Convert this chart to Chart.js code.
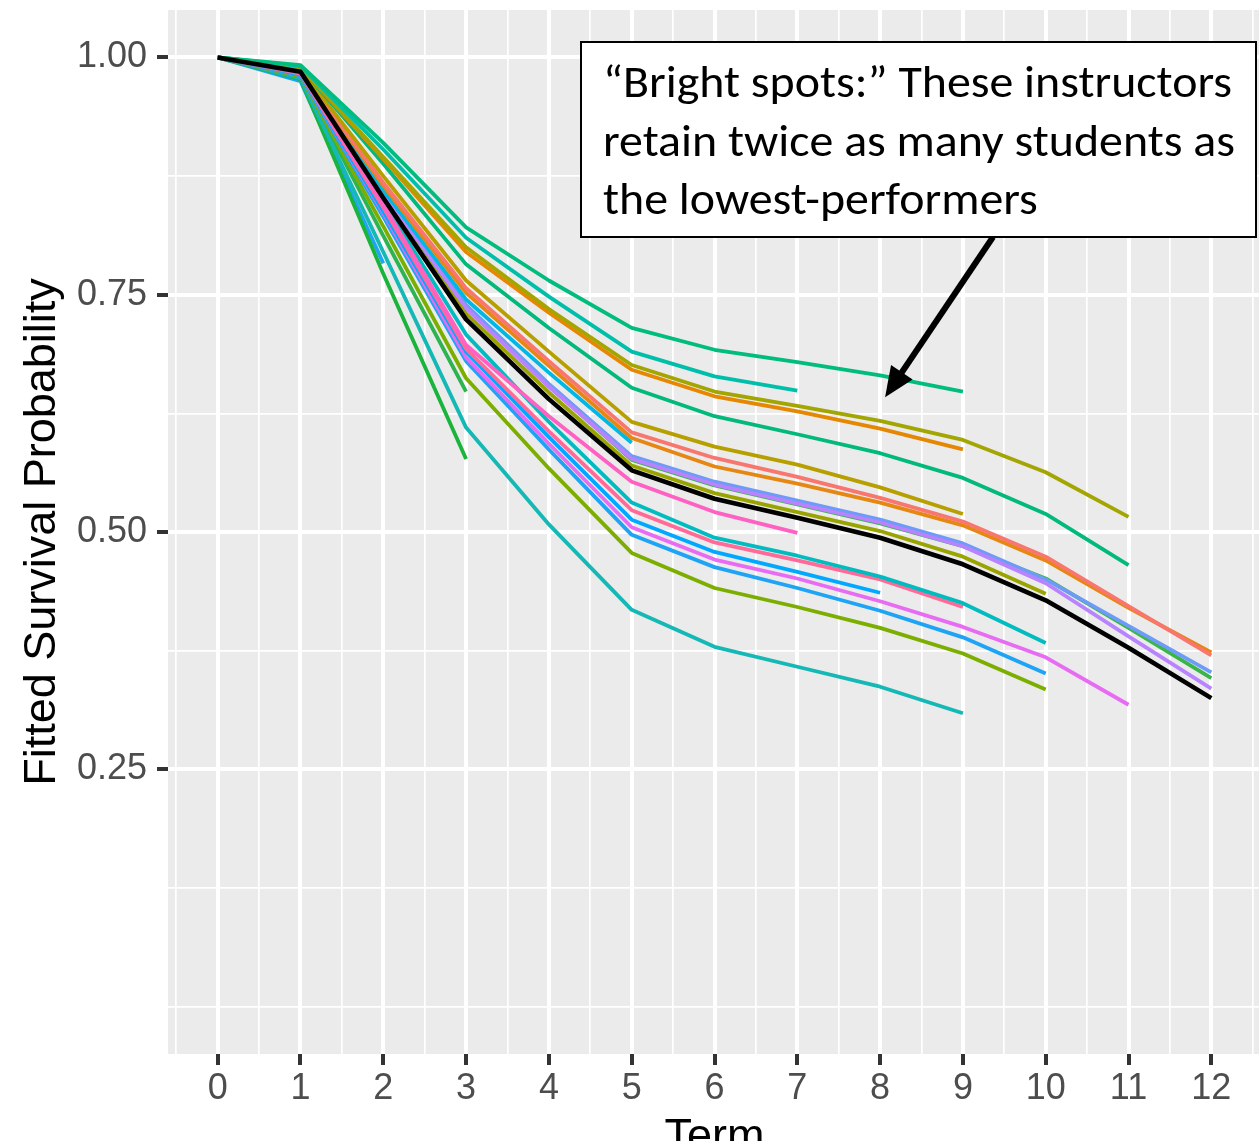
<!DOCTYPE html>
<html><head><meta charset="utf-8">
<script src="https://cdn.jsdelivr.net/npm/chart.js@4.4.1/dist/chart.umd.min.js"></script>
<style>
html,body{margin:0;padding:0;background:#fff;overflow:hidden;width:1259px;height:1141px;}
#wrap{position:absolute;left:0;top:0;width:1280px;height:1180px;}
</style></head><body>
<div id="wrap"><canvas id="c" width="1280" height="1180"></canvas></div>
<script>
// ---- data ----
const terms = [0,1,2,3,4,5,6,7,8,9,10,11,12];
const xTickValues = [0,1,2,3,4,5,6,7,8,9,10,11,12];
const xTickLabels = ['0','1','2','3','4','5','6','7','8','9','10','11','12'];
const yTickValues = [0.25,0.5,0.75,1.0];
const yTickLabels = ['0.25','0.50','0.75','1.00'];

const average       = [1.000,0.985,0.852,0.724,0.640,0.565,0.535,0.515,0.494,0.466,0.428,0.378,0.325];
const tealTop       = [1.000,0.992,0.910,0.821,0.765,0.715,0.692,0.679,0.665,0.648];
const tealShort     = [1.000,0.991,0.903,0.810,0.748,0.690,0.664,0.649];
const olive         = [1.000,0.990,0.895,0.800,0.735,0.676,0.648,0.633,0.617,0.597,0.563,0.516];
const orange9       = [1.000,0.990,0.893,0.795,0.731,0.671,0.643,0.627,0.609,0.587];
const green11       = [1.000,0.990,0.888,0.782,0.715,0.652,0.622,0.603,0.583,0.557,0.519,0.465];
const oliveDark     = [1.000,0.988,0.875,0.765,0.690,0.616,0.590,0.571,0.547,0.519];
const salmon        = [1.000,0.987,0.868,0.757,0.680,0.605,0.578,0.558,0.536,0.511,0.474,0.422,0.370];
const orange12      = [1.000,0.987,0.865,0.752,0.675,0.599,0.569,0.551,0.531,0.507,0.470,0.420,0.373];
const cyan5         = [1.000,0.986,0.860,0.745,0.668,0.594];
const lavender      = [1.000,0.986,0.858,0.736,0.653,0.577,0.550,0.530,0.510,0.485,0.446,0.390,0.335];
const blue12        = [1.000,0.986,0.859,0.739,0.656,0.580,0.553,0.533,0.513,0.488,0.450,0.401,0.352];
const green12       = [1.000,0.986,0.857,0.737,0.654,0.576,0.549,0.529,0.509,0.485,0.451,0.399,0.346];
const olive10       = [1.000,0.985,0.855,0.730,0.647,0.570,0.541,0.521,0.501,0.474,0.435];
const pink7         = [1.000,0.984,0.845,0.697,0.622,0.553,0.521,0.499];
const teal10        = [1.000,0.984,0.848,0.708,0.616,0.531,0.494,0.475,0.453,0.425,0.383];
const pink9         = [1.000,0.983,0.842,0.693,0.606,0.523,0.489,0.470,0.450,0.421];
const blue8         = [1.000,0.982,0.838,0.690,0.600,0.513,0.479,0.458,0.436];
const violet11      = [1.000,0.982,0.836,0.684,0.593,0.505,0.471,0.451,0.427,0.400,0.368,0.318];
const blue10        = [1.000,0.981,0.832,0.680,0.587,0.497,0.463,0.441,0.417,0.389,0.351];
const yellowGreen10 = [1.000,0.980,0.822,0.662,0.567,0.478,0.441,0.421,0.399,0.372,0.334];
const tealLow       = [1.000,0.978,0.795,0.610,0.508,0.418,0.379,0.358,0.337,0.309];
const green3b       = [1.000,0.979,0.812,0.648];
const green3a       = [1.000,0.977,0.772,0.577];
const blue2         = [1.000,0.975,0.783];

const seriesList = [
  {v: tealTop, c:'#00BC7E'}, {v: tealShort, c:'#00BFAA'}, {v: olive, c:'#A3A500'},
  {v: orange9, c:'#E58700'}, {v: green11, c:'#00B97A'}, {v: oliveDark, c:'#B79F00'},
  {v: salmon, c:'#F8766D'}, {v: orange12, c:'#E68613'}, {v: cyan5, c:'#00B8E5'},
  {v: lavender, c:'#B983FF'}, {v: blue12, c:'#6F9BF8'}, {v: green12, c:'#39B54A'},
  {v: olive10, c:'#9AA400'}, {v: pink7, c:'#FF61C3'}, {v: teal10, c:'#00BCC0'},
  {v: pink9, c:'#FF6A98'}, {v: blue8, c:'#00A9FF'}, {v: violet11, c:'#E76BF3'},
  {v: blue10, c:'#1FA3F5'}, {v: yellowGreen10, c:'#7CAE00'}, {v: tealLow, c:'#14B8B4'},
  {v: green3b, c:'#2DB350'}, {v: green3a, c:'#1AB43C'}, {v: blue2, c:'#1DA6F2'}
];

const annotationLines = ['\u201CBright spots:\u201D These instructors','retain twice as many students as','the lowest-performers'];
const arrowTip = {term: 8.06, value: 0.642};

// ---- chart ----
const toPts = arr => arr.map((v,i)=>({x: terms[i], y: v}));
const datasets = seriesList.map(s => ({
  data: toPts(s.v), borderColor: s.c, borderWidth: 3.8, pointRadius: 0,
  tension: 0, fill: false, order: 1, borderJoinStyle: 'round', borderCapStyle: 'butt'
}));
datasets.push({data: toPts(average), borderColor:'#000000', borderWidth: 4.6, pointRadius: 0,
  tension: 0, fill: false, order: 0, borderJoinStyle:'round'});

const isIn = (arr, v) => arr.some(a => Math.abs(a - v) < 1e-9);

const panelBg = {
  id: 'panelBg',
  beforeDraw(chart){
    const {ctx, chartArea:a} = chart;
    ctx.save(); ctx.fillStyle = '#EBEBEB';
    ctx.fillRect(a.left, a.top, a.right - a.left, a.bottom - a.top);
    ctx.restore();
  }
};

const annot = {
  id: 'annot',
  afterDraw(chart){
    const ctx = chart.ctx;
    const xs = chart.scales.x, ys = chart.scales.y;
    const tipX = xs.getPixelForValue(arrowTip.term), tipY = ys.getPixelForValue(arrowTip.value);
    const box = {l: 581, t: 42, r: 1256, b: 237};
    const sx = 993, sy = box.b;
    ctx.save();
    // arrow
    const dx = tipX - sx, dy = tipY - sy, len = Math.hypot(dx, dy);
    const ux = dx/len, uy = dy/len, hl = 30, hw = 13;
    const bx = tipX - ux*hl, by = tipY - uy*hl;
    ctx.strokeStyle = '#000'; ctx.lineWidth = 6; ctx.lineCap = 'butt';
    ctx.beginPath(); ctx.moveTo(sx, sy); ctx.lineTo(bx + ux*2, by + uy*2); ctx.stroke();
    ctx.fillStyle = '#000';
    ctx.beginPath(); ctx.moveTo(tipX, tipY);
    ctx.lineTo(bx - uy*hw, by + ux*hw); ctx.lineTo(bx + uy*hw, by - ux*hw); ctx.closePath(); ctx.fill();
    // box
    ctx.fillStyle = '#fff'; ctx.fillRect(box.l, box.t, box.r - box.l, box.b - box.t);
    ctx.strokeStyle = '#000'; ctx.lineWidth = 2;
    ctx.strokeRect(box.l, box.t, box.r - box.l, box.b - box.t);
    // text
    ctx.font = '45px Carlito, Lato, "Open Sans", sans-serif';
    ctx.fillStyle = '#000'; ctx.textBaseline = 'alphabetic'; ctx.textAlign = 'left';
    const w0 = ctx.measureText(annotationLines[0]).width;
    const scaleX = 629 / w0;
    const baselines = [97, 155.5, 214];
    annotationLines.forEach((t, i) => {
      ctx.save(); ctx.translate(603, baselines[i]); ctx.scale(scaleX, 1);
      ctx.fillText(t, 0, 0); ctx.restore();
    });
    ctx.restore();
  }
};

const noPad = s => { s.paddingTop = 0; s.paddingBottom = 0; s.paddingLeft = 0; s.paddingRight = 0; };

new Chart(document.getElementById('c'), {
  type: 'line',
  data: { datasets },
  plugins: [panelBg, annot],
  options: {
    responsive: false, animation: false,
    layout: { padding: { left: 0, top: 10, right: 19, bottom: 0 } },
    plugins: { legend: { display: false }, tooltip: { enabled: false } },
    scales: {
      x: {
        type: 'linear', min: -0.6, max: 12.6,
        afterBuildTicks: s => { const t = []; for (let k = -1; k <= 25; k++) t.push({value: k/2}); s.ticks = t; },
        afterFit: s => { s.height = 126; noPad(s); },
        ticks: { autoSkip: false, maxRotation: 0, padding: 2,
          font: { family: '"Liberation Sans", Arial, sans-serif', size: 36 }, color: '#4D4D4D',
          callback: v => { const i = xTickValues.findIndex(a => Math.abs(a - v) < 1e-9); return i >= 0 ? xTickLabels[i] : ''; } },
        grid: { color: '#FFFFFF', lineWidth: c => (c.tick && isIn(xTickValues, c.tick.value)) ? 4 : 1.7,
          drawTicks: true, tickLength: 11, tickWidth: 4,
          tickColor: c => (c.tick && isIn(xTickValues, c.tick.value)) ? '#333333' : 'rgba(0,0,0,0)' },
        border: { display: false },
        title: { display: true, text: 'Term', color: '#000000',
          font: { family: '"Liberation Sans", Arial, sans-serif', size: 45 }, padding: { top: 0, bottom: 15 } }
      },
      y: {
        type: 'linear', min: -0.05, max: 1.05,
        afterBuildTicks: s => { const t = []; for (let k = 0; k <= 8; k++) t.push({value: k/8}); s.ticks = t; },
        afterFit: s => { s.width = 168; noPad(s); },
        ticks: { autoSkip: false, padding: 10,
          font: { family: '"Liberation Sans", Arial, sans-serif', size: 36 }, color: '#4D4D4D',
          callback: v => { const i = yTickValues.findIndex(a => Math.abs(a - v) < 1e-9); return i >= 0 ? yTickLabels[i] : ''; } },
        grid: { color: '#FFFFFF', lineWidth: c => (c.tick && isIn(yTickValues, c.tick.value)) ? 4 : 1.7,
          drawTicks: true, tickLength: 11, tickWidth: 4,
          tickColor: c => (c.tick && isIn(yTickValues, c.tick.value)) ? '#333333' : 'rgba(0,0,0,0)' },
        border: { display: false },
        title: { display: true, text: 'Fitted Survival Probability', color: '#000000',
          font: { family: '"Liberation Sans", Arial, sans-serif', size: 45 }, padding: { top: 16, bottom: 0 } }
      }
    }
  }
});
</script>
</body></html>
